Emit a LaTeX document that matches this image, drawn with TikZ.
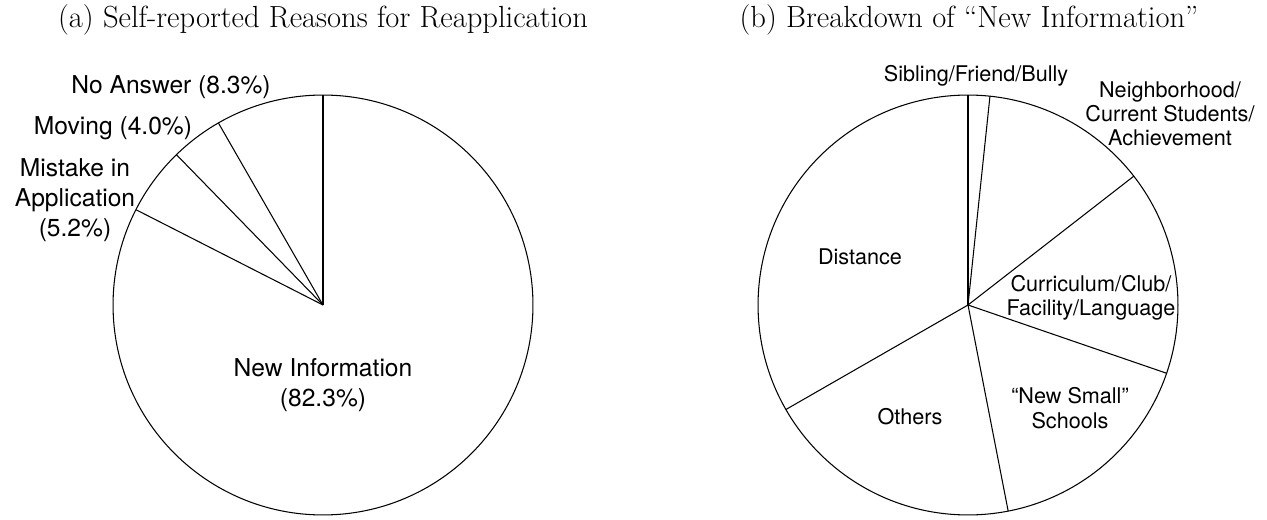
\documentclass[tikz,border=0pt]{standalone}
\usepackage{fontspec}
\newfontfamily\piefont{TeX Gyre Heros}

\begin{document}
\begin{tikzpicture}[
    x=0.02cm,y=-0.02cm,
    wedge/.style={draw=black,line width=0.6pt},
    title/.style={font=\fontsize{17.4}{21}\selectfont,inner sep=0pt},
    biglabel/.style={font=\piefont\fontsize{14}{17}\selectfont,align=center,inner sep=0pt},
    smalllabel/.style={font=\piefont\fontsize{12.3}{13.8}\selectfont,align=center,inner sep=0pt}
  ]
    \useasboundingbox (0,0) rectangle (1267,520);
    % pie centres
    \coordinate (ctrA) at (323,305);
    \coordinate (ctrB) at (968,305);
    % (a) reasons
    \draw[wedge] (ctrA) circle[radius=4.2cm];
    \foreach \ang in {90,119.88,134.28,153}
      \draw[wedge] (ctrA) -- ++(\ang:4.2cm);
    % (b) breakdown
    \draw[wedge] (ctrB) circle[radius=4.2cm];
    \foreach \ang in {90,84,37.85,-18.97,-78.97,209.85}
      \draw[wedge] (ctrB) -- ++(\ang:4.2cm);
    \node[title] (titleA) at (323,20) {(a) Self-reported Reasons for Reapplication};
    \node[title] (titleB) at (969,20) {(b) Breakdown of “New Information”};
    \node[biglabel] (noans) at (171,87) {No Answer (8.3\%)};
    \node[biglabel] (moving) at (113,128) {Moving (4.0\%)};
    \node[biglabel] (mistake) at (75,200) {Mistake in\\Application\\(5.2\%)};
    \node[biglabel] (newinfo) at (323,385) {New Information\\(82.3\%)};
    \node[smalllabel] (sibling) at (976,76) {Sibling/Friend/Bully};
    \node[smalllabel] (neighbour) at (1170,114) {Neighborhood/\\Current Students/\\Achievement};
    \node[smalllabel] (distance) at (860,257) {Distance};
    \node[smalllabel] (curric) at (1091,298) {Curriculum/Club/\\Facility/Language};
    \node[smalllabel] (newsmall) at (1070,408) {“New Small”\\Schools};
    \node[smalllabel] (others) at (910,417) {Others};
  \end{tikzpicture}
\end{document}
